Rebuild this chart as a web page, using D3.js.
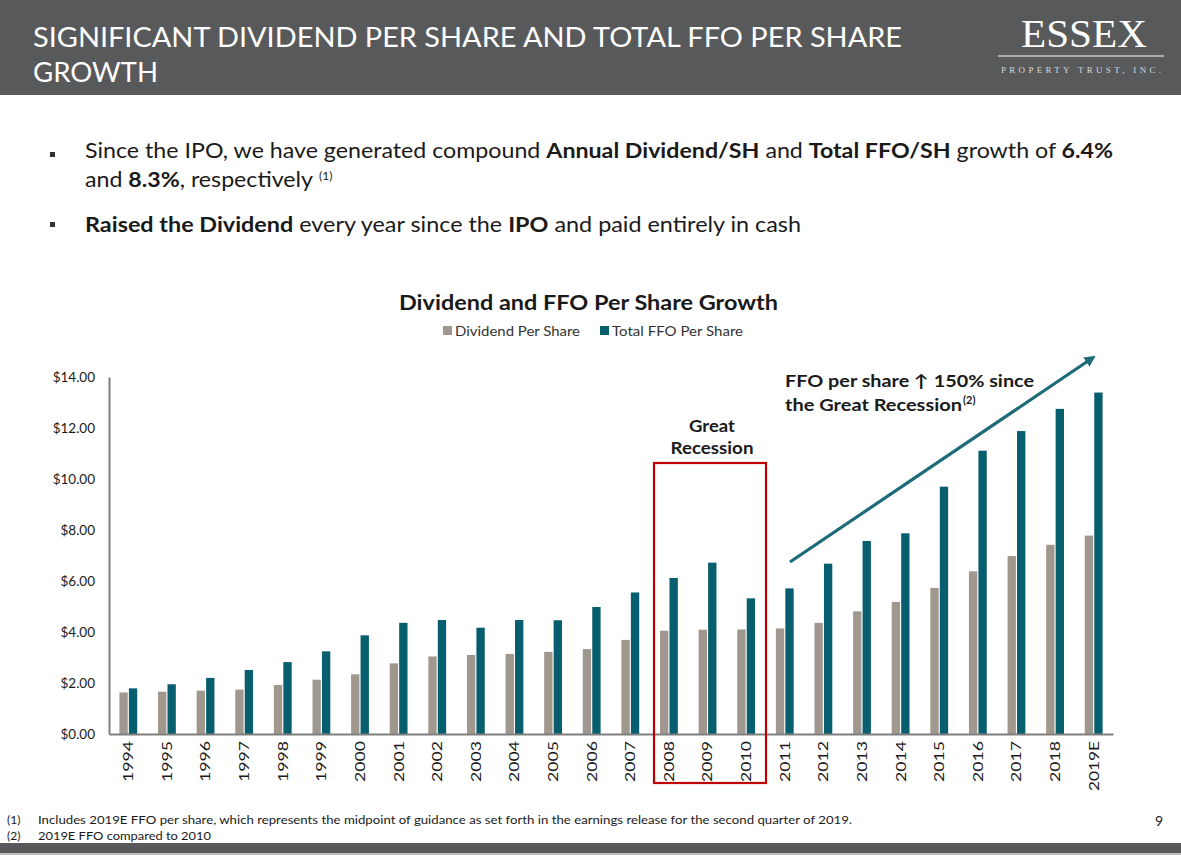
<!DOCTYPE html>
<html>
<head>
<meta charset="utf-8">
<script src="https://cdn.jsdelivr.net/npm/d3@7"></script>
<style>
  html, body { margin: 0; padding: 0; background: #fff; }
  svg { display: block; }
</style>
</head>
<body>
<svg id="chart" width="1181" height="863"></svg>
<script>
const years = ["1994","1995","1996","1997","1998","1999","2000","2001","2002","2003","2004","2005","2006","2007","2008","2009","2010","2011","2012","2013","2014","2015","2016","2017","2018","2019E"];
const dividend = [1.63,1.66,1.70,1.74,1.92,2.13,2.34,2.77,3.04,3.10,3.14,3.22,3.33,3.69,4.05,4.09,4.10,4.14,4.36,4.81,5.18,5.73,6.38,6.98,7.42,7.78];
const ffo = [1.79,1.95,2.20,2.51,2.82,3.24,3.87,4.36,4.47,4.17,4.47,4.46,4.98,5.55,6.12,6.72,5.32,5.71,6.68,7.57,7.87,9.70,11.11,11.88,12.75,13.39];
const yTicks = [0,2,4,6,8,10,12,14];
const seriesNames = ["Dividend Per Share","Total FFO Per Share"];
const recessionYears = ["2008","2009","2010"];

const colors = {div: "#a0978e", ffo: "#075e6e", text: "#1a1a1a", header: "#58595b"};
const FONT = "Lato, 'Open Sans', sans-serif";

const svg = d3.select("#chart");
function fit(sel, len) { return sel.attr("textLength", len).attr("lengthAdjust", "spacingAndGlyphs"); }

// Header band
svg.append("rect").attr("x",0).attr("y",0).attr("width",1181).attr("height",95).attr("fill",colors.header);
const hdr = svg.append("text").attr("font-family",FONT).attr("font-size",26).attr("fill","#fff").attr("font-weight",400);
fit(hdr.append("tspan").attr("x",33).attr("y",47), 869).text("SIGNIFICANT DIVIDEND PER SHARE AND TOTAL FFO PER SHARE");
fit(hdr.append("tspan").attr("x",33).attr("y",82), 125).text("GROWTH");

// Logo
fit(svg.append("text").attr("x",1084).attr("y",47).attr("text-anchor","middle").attr("font-family","'Liberation Serif', 'DejaVu Serif', serif")
  .attr("font-size",41).attr("fill","#fff"), 126).text("ESSEX");
svg.append("line").attr("x1",998).attr("x2",1164).attr("y1",56).attr("y2",56).attr("stroke","#fff").attr("stroke-width",1.2);
svg.append("text").attr("x",1081).attr("y",73).attr("text-anchor","middle").attr("font-family","'Liberation Serif', serif")
  .attr("font-size",9).attr("fill","#d8d8d8").attr("textLength",160).attr("lengthAdjust","spacing").text("PROPERTY TRUST, INC.");

// Bullets
function richLine(x, y, parts, len) {
  const t = svg.append("text").attr("x",x).attr("y",y).attr("font-family",FONT).attr("font-size",21).attr("fill",colors.text);
  if (len) fit(t, len);
  parts.forEach(p => {
    const ts = t.append("tspan").text(p.t);
    if (p.b) ts.attr("font-weight",700);
  });
  return t;
}
svg.append("rect").attr("x",50).attr("y",152).attr("width",5).attr("height",5).attr("fill","#333");
svg.append("rect").attr("x",50).attr("y",222).attr("width",5).attr("height",5).attr("fill","#333");
richLine(85,158,[{t:"Since the IPO, we have generated compound "},{t:"Annual Dividend/SH",b:1},{t:" and "},{t:"Total FFO/SH",b:1},{t:" growth of "},{t:"6.4%",b:1}],1028);
richLine(85,187,[{t:"and "},{t:"8.3%",b:1},{t:", respectively"}],228);
svg.append("text").attr("x",319).attr("y",180).attr("font-family",FONT).attr("font-size",12).attr("fill",colors.text).text("(1)");
richLine(85,232,[{t:"Raised the Dividend",b:1},{t:" every year since the "},{t:"IPO",b:1},{t:" and paid entirely in cash"}],716);

// Chart title + legend
fit(svg.append("text").attr("x",399).attr("y",310).attr("font-family",FONT).attr("font-weight",700)
  .attr("font-size",20).attr("fill",colors.text), 379).text("Dividend and FFO Per Share Growth");
const leg = svg.append("g").attr("font-family",FONT).attr("font-size",14).attr("fill","#333");
const legItems = [{x:443, c:colors.div, n:seriesNames[0], w:125},{x:600, c:colors.ffo, n:seriesNames[1], w:131}];
legItems.forEach(d => {
  leg.append("rect").attr("x",d.x).attr("y",326).attr("width",9).attr("height",9).attr("fill",d.c);
  fit(leg.append("text").attr("x",d.x+12).attr("y",336), d.w).text(d.n);
});

// Scales
const margin = {left:109, right:1113, top:377, bottom:734};
const x0 = d3.scaleBand().domain(years).range([margin.left, margin.right]).paddingInner(0.48).paddingOuter(0.24);
const x1 = d3.scaleBand().domain(["div","ffo"]).range([0, x0.bandwidth()]).padding(0.12);
const y = d3.scaleLinear().domain([0,14]).range([margin.bottom, margin.top]);

// Y axis
const yAxis = d3.axisLeft(y).tickValues(yTicks).tickSize(0).tickPadding(14).tickFormat(d => "$" + d3.format(".2f")(d));
const yg = svg.append("g").attr("transform",`translate(${margin.left},0)`).call(yAxis);
yg.select(".domain").attr("stroke","#7f7f7f").attr("stroke-width",2);
yg.selectAll("text").attr("font-family",FONT).attr("font-size",13.5).attr("fill",colors.text);

// Bars
const data = years.map((yr,i) => ({yr, div: dividend[i], ffo: ffo[i]}));
const grp = svg.append("g").selectAll("g").data(data).join("g").attr("transform", d => `translate(${x0(d.yr)},0)`);
grp.append("rect").attr("x",x1("div")).attr("width",x1.bandwidth()).attr("y",d=>y(d.div)).attr("height",d=>y(0)-y(d.div)).attr("fill",colors.div);
grp.append("rect").attr("x",x1("ffo")).attr("width",x1.bandwidth()).attr("y",d=>y(d.ffo)).attr("height",d=>y(0)-y(d.ffo)).attr("fill",colors.ffo);

// X axis
const xAxis = d3.axisBottom(x0).tickSize(0).tickPadding(0);
const xg = svg.append("g").attr("transform",`translate(0,${margin.bottom})`).call(xAxis);
xg.select(".domain").attr("stroke","#7f7f7f").attr("stroke-width",2);
xg.selectAll("text").attr("font-family",FONT).attr("font-size",14).attr("fill",colors.text)
  .attr("transform","rotate(-90)").attr("text-anchor","end").attr("x",-7).attr("y",0).attr("dy","0.35em")
  .attr("textLength", d => d.length > 4 ? 50 : 41).attr("lengthAdjust","spacingAndGlyphs");

// Recession box
svg.append("rect").attr("x",654).attr("y",463).attr("width",112).attr("height",320)
  .attr("fill","none").attr("stroke","#c00000").attr("stroke-width",2.2);
const gr = svg.append("text").attr("text-anchor","middle").attr("font-family",FONT).attr("font-weight",700).attr("font-size",17).attr("fill",colors.text);
fit(gr.append("tspan").attr("x",712).attr("y",432), 46).text("Great");
fit(gr.append("tspan").attr("x",712).attr("y",454), 83).text("Recession");

// Arrow
svg.append("defs").append("marker").attr("id","ah").attr("viewBox","0 0 10 10").attr("refX",5).attr("refY",5)
  .attr("markerWidth",3.5).attr("markerHeight",3.5).attr("orient","auto")
  .append("path").attr("d","M0,0 L10,5 L0,10 z").attr("fill","#1d6b78");
svg.append("line").attr("x1",790).attr("y1",562).attr("x2",1091).attr("y2",359).attr("stroke","#1d6b78").attr("stroke-width",3.2).attr("marker-end","url(#ah)");

// Annotation
const annG = svg.append("g").attr("font-family",FONT).attr("font-weight",700).attr("fill",colors.text);
fit(annG.append("text").attr("x",785).attr("y",387).attr("font-size",17), 249).text("FFO per share \u2191 150% since");
fit(annG.append("text").attr("x",785).attr("y",411).attr("font-size",17), 177).text("the Great Recession");
annG.append("text").attr("x",963).attr("y",404).attr("font-size",11).text("(2)");

// Footnotes
const fn = svg.append("g").attr("font-family",FONT).attr("font-size",12).attr("fill",colors.text);
fn.append("text").attr("x",7).attr("y",824).text("(1)");
fit(fn.append("text").attr("x",38).attr("y",824), 814).text("Includes 2019E FFO per share, which represents the midpoint of guidance as set forth in the earnings release for the second quarter of 2019.");
fn.append("text").attr("x",7).attr("y",840).text("(2)");
fit(fn.append("text").attr("x",38).attr("y",840), 173).text("2019E FFO compared to 2010");
svg.append("text").attr("x",1163).attr("y",826).attr("text-anchor","end").attr("font-family",FONT).attr("font-size",14).attr("fill",colors.text).text("9");

// Bottom band
svg.append("rect").attr("x",0).attr("y",843).attr("width",1181).attr("height",10).attr("fill",colors.header);
svg.append("rect").attr("x",0).attr("y",853).attr("width",1181).attr("height",2).attr("fill","#bdbdbd");
</script>
</body>
</html>
